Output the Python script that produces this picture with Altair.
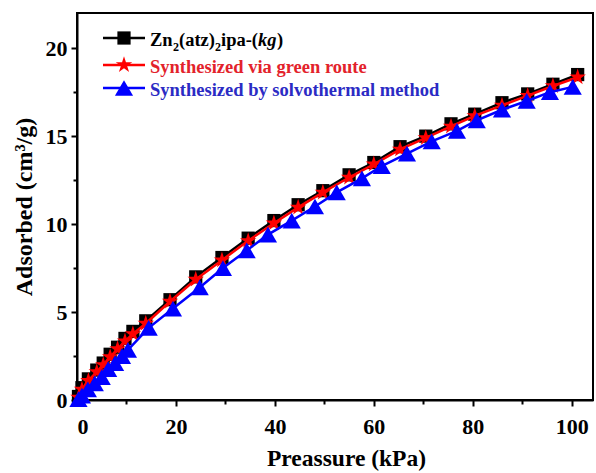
import altair as alt
import pandas as pd

# ---- data ----
black_x = [0.3, 1.0, 2.3, 4.0, 5.3, 6.7, 8.2, 9.7, 11.3, 13.9, 18.8, 24.0, 29.3, 34.6, 39.8, 44.7,
           49.7, 55.0, 60.0, 65.3, 70.5, 75.6, 80.4, 85.9, 91.1, 96.2, 101.2]
black_y = [0.2, 0.7, 1.2, 1.7, 2.1, 2.6, 3.0, 3.5, 3.9, 4.5, 5.7, 7.0, 8.1, 9.2, 10.2, 11.1,
           11.9, 12.8, 13.5, 14.4, 15.0, 15.7, 16.25, 16.9, 17.4, 17.95, 18.5]
red_x = [0.3, 1.0, 2.3, 4.0, 5.3, 6.7, 8.2, 9.7, 11.3, 13.9, 18.8, 24.0, 29.3, 34.6, 39.8, 44.7,
         49.7, 55.0, 60.0, 65.3, 70.5, 75.6, 80.4, 85.9, 91.1, 96.2, 101.2]
red_y = [0.15, 0.6, 1.1, 1.6, 2.0, 2.45, 2.9, 3.35, 3.75, 4.35, 5.6, 6.85, 7.95, 9.05, 10.05, 10.95,
         11.8, 12.65, 13.4, 14.25, 14.9, 15.55, 16.15, 16.75, 17.3, 17.85, 18.35]
blue_x = [0.3, 1.0, 2.2, 3.6, 5.0, 6.3, 7.7, 9.1, 10.3, 14.5, 19.4, 24.8, 29.5, 34.3, 38.6, 43.4,
          48.1, 52.5, 57.6, 61.6, 66.7, 71.7, 76.8, 80.8, 85.9, 90.9, 95.6, 100.2]
blue_y = [0.05, 0.25, 0.6, 0.95, 1.3, 1.75, 2.1, 2.5, 2.85, 4.1, 5.2, 6.4, 7.5, 8.5, 9.4, 10.2,
          11.0, 11.8, 12.6, 13.3, 14.0, 14.7, 15.3, 15.9, 16.5, 17.0, 17.5, 17.8]

x_major = [0, 20, 40, 60, 80, 100]
x_minor = [10, 30, 50, 70, 90]
y_major = [0, 5, 10, 15, 20]
y_minor = [2.5, 7.5, 12.5, 17.5]

legend_green = "Synthesized via green route"
legend_solvo = "Synthesized by solvothermal method"

FONT = "Liberation Serif"
STAR = ("M0,-1L0.2245,-0.309L0.951,-0.309L0.363,0.118L0.588,0.809L0,0.382L-0.588,0.809"
        "L-0.363,0.118L-0.951,-0.309L-0.2245,-0.309Z")


def frame(xs, ys):
    return pd.DataFrame({"x": xs, "y": ys, "i": list(range(len(xs)))})


df_k = frame(black_x, black_y)
df_r = frame(red_x, red_y)
df_b = frame(blue_x, blue_y)

xs = alt.Scale(domain=[0, 104.3], nice=False, zero=False)
ys = alt.Scale(domain=[0, 22], nice=False, zero=False)


def enc(axis_x=None, axis_y=None):
    return dict(
        x=alt.X("x:Q", scale=xs, axis=axis_x),
        y=alt.Y("y:Q", scale=ys, axis=axis_y),
        order="i:Q",
    )


main_x_axis = alt.Axis(values=x_major, title="Preassure (kPa)", orient="bottom", tickSize=6,
                       labelPadding=10, titlePadding=9, titleX=269, grid=False, format="d")
main_y_axis = alt.Axis(values=y_major, title="Adsorbed (cm³/g)", orient="left", tickSize=6,
                       labelPadding=4, titlePadding=9, grid=False, format="d")
minor_x_axis = alt.Axis(values=x_minor, title=None, orient="bottom", tickSize=4, labels=False,
                        domain=False, grid=False)
minor_y_axis = alt.Axis(values=y_minor, title=None, orient="left", tickSize=4, labels=False,
                        domain=False, grid=False)

base_axes = alt.Chart(df_k).mark_point(opacity=0).encode(**enc(main_x_axis, main_y_axis))
minor_axes = alt.Chart(df_k).mark_point(opacity=0).encode(**enc(minor_x_axis, minor_y_axis))

SQ, ST, TR = 175, 300, 330
LW = 2.5

k_line = alt.Chart(df_k).mark_line(color="black", strokeWidth=LW).encode(**enc())
k_pts = alt.Chart(df_k).mark_point(shape="square", filled=True, color="black", opacity=1,
                                   size=SQ).encode(**enc())
r_line = alt.Chart(df_r).mark_line(color="#FF0000", strokeWidth=LW).encode(**enc())
r_star = alt.Chart(df_r).mark_point(shape=STAR, filled=True, color="#FF0000", opacity=1,
                                    size=ST).encode(**enc())
b_line = alt.Chart(df_b).mark_line(color="#0000FF", strokeWidth=LW).encode(**enc())
b_pts = alt.Chart(df_b).mark_point(shape="triangle-up", filled=True, color="#0000FF", opacity=1,
                                   size=TR).encode(**enc())

# ---- legend (drawn inside plot, top-left) ----
leg_rows = pd.DataFrame({"row": [0]})
row_y = [25, 52, 75]
colors = ["black", "#FF0000", "#0000FF"]
shapes = ["square", STAR, "triangle-up"]
sizes = [SQ, ST, TR]
legend_layers = []
for yv, c, s, sz in zip(row_y, colors, shapes, sizes):
    legend_layers.append(alt.Chart(leg_rows).mark_rule(color=c, strokeWidth=LW).encode(
        x=alt.value(26), x2=alt.value(68), y=alt.value(yv)))
    legend_layers.append(alt.Chart(leg_rows).mark_point(shape=s, filled=True, color=c, opacity=1,
                                                        size=sz).encode(x=alt.value(47), y=alt.value(yv)))


def txt(s, x, y, color, size=18.5, style="normal"):
    return alt.Chart(leg_rows).mark_text(text=s, font=FONT, fontWeight="bold", fontSize=size,
                                         fontStyle=style, align="left", baseline="alphabetic",
                                         color=color).encode(x=alt.value(x), y=alt.value(y))


t0 = 73
by = 33
legend_layers += [
    txt("Zn", t0, by, "black"),
    txt("2", t0 + 23, by + 5, "black", size=12),
    txt("(atz)", t0 + 29, by, "black"),
    txt("2", t0 + 65, by + 5, "black", size=12),
    txt("ipa-(", t0 + 71, by, "black"),
    txt("kg", t0 + 108, by, "black", style="italic"),
    txt(")", t0 + 127, by, "black"),
    txt(legend_green, t0, 60, "#E3222B"),
    txt(legend_solvo, t0, 83, "#2B2BC4"),
]

chart = alt.layer(
    base_axes, minor_axes, k_line, k_pts, r_line, r_star, b_line, b_pts, *legend_layers
).resolve_axis(x="independent", y="independent").properties(
    width=516, height=387,
    autosize=alt.AutoSizeParams(type="none"),
    padding={"left": 77, "top": 13, "right": 3, "bottom": 73},
).configure_view(stroke="black", strokeWidth=2).configure_axis(
    domainColor="black", domainWidth=2, tickColor="black", tickWidth=2,
    labelFont=FONT, labelFontWeight="bold", labelFontSize=22, labelColor="black",
    titleFont=FONT, titleFontWeight="bold", titleFontSize=23.5, titleColor="black",
).configure_axisLeft(titleFontSize=24)

chart.save("out.html", embed_options={"renderer": "svg", "actions": False})
